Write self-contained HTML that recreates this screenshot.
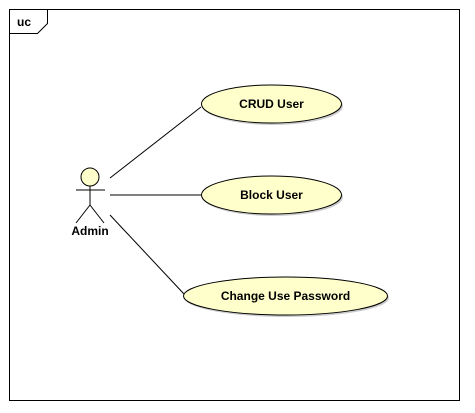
<!DOCTYPE html>
<html><head><style>body{margin:0;background:#fff}svg{display:block}</style></head><body>
<svg width="475" height="413" xmlns="http://www.w3.org/2000/svg" font-family="Liberation Sans, sans-serif" font-weight="bold" font-size="12">
<rect x="9.5" y="9.5" width="450" height="391" fill="#fff" stroke="#000" stroke-width="1"/>
<path d="M9.5 33.5 H37.5 L47.5 23.5 V9.5" fill="none" stroke="#000"/>
<text x="17" y="26" font-size="12">uc</text>
<g fill="#ffffcc" stroke="#000">
<ellipse cx="273" cy="106" rx="70" ry="19" fill="#ccc" stroke="none"/>
<ellipse cx="271.5" cy="104" rx="70" ry="19"/>
<ellipse cx="273" cy="197" rx="70" ry="19" fill="#ccc" stroke="none"/>
<ellipse cx="271.5" cy="195" rx="70" ry="19"/>
<ellipse cx="287" cy="298" rx="102" ry="19" fill="#ccc" stroke="none"/>
<ellipse cx="285.5" cy="296" rx="102" ry="19"/>
<circle cx="90" cy="177" r="9"/>
</g>
<g stroke="#000" fill="none">
<line x1="90" y1="186" x2="90" y2="205"/>
<line x1="76" y1="190" x2="105" y2="190"/>
<line x1="90" y1="205" x2="76" y2="223"/>
<line x1="90" y1="205" x2="104" y2="223"/>
<line x1="110" y1="178" x2="201" y2="107"/>
<line x1="110" y1="195" x2="201" y2="195"/>
<line x1="110" y1="215" x2="184" y2="294"/>
</g>
<text x="90" y="235" text-anchor="middle">Admin</text>
<text x="271.5" y="108" text-anchor="middle">CRUD User</text>
<text x="271.5" y="199" text-anchor="middle">Block User</text>
<text x="285.5" y="300" text-anchor="middle">Change Use Password</text>
</svg>
</body></html>
